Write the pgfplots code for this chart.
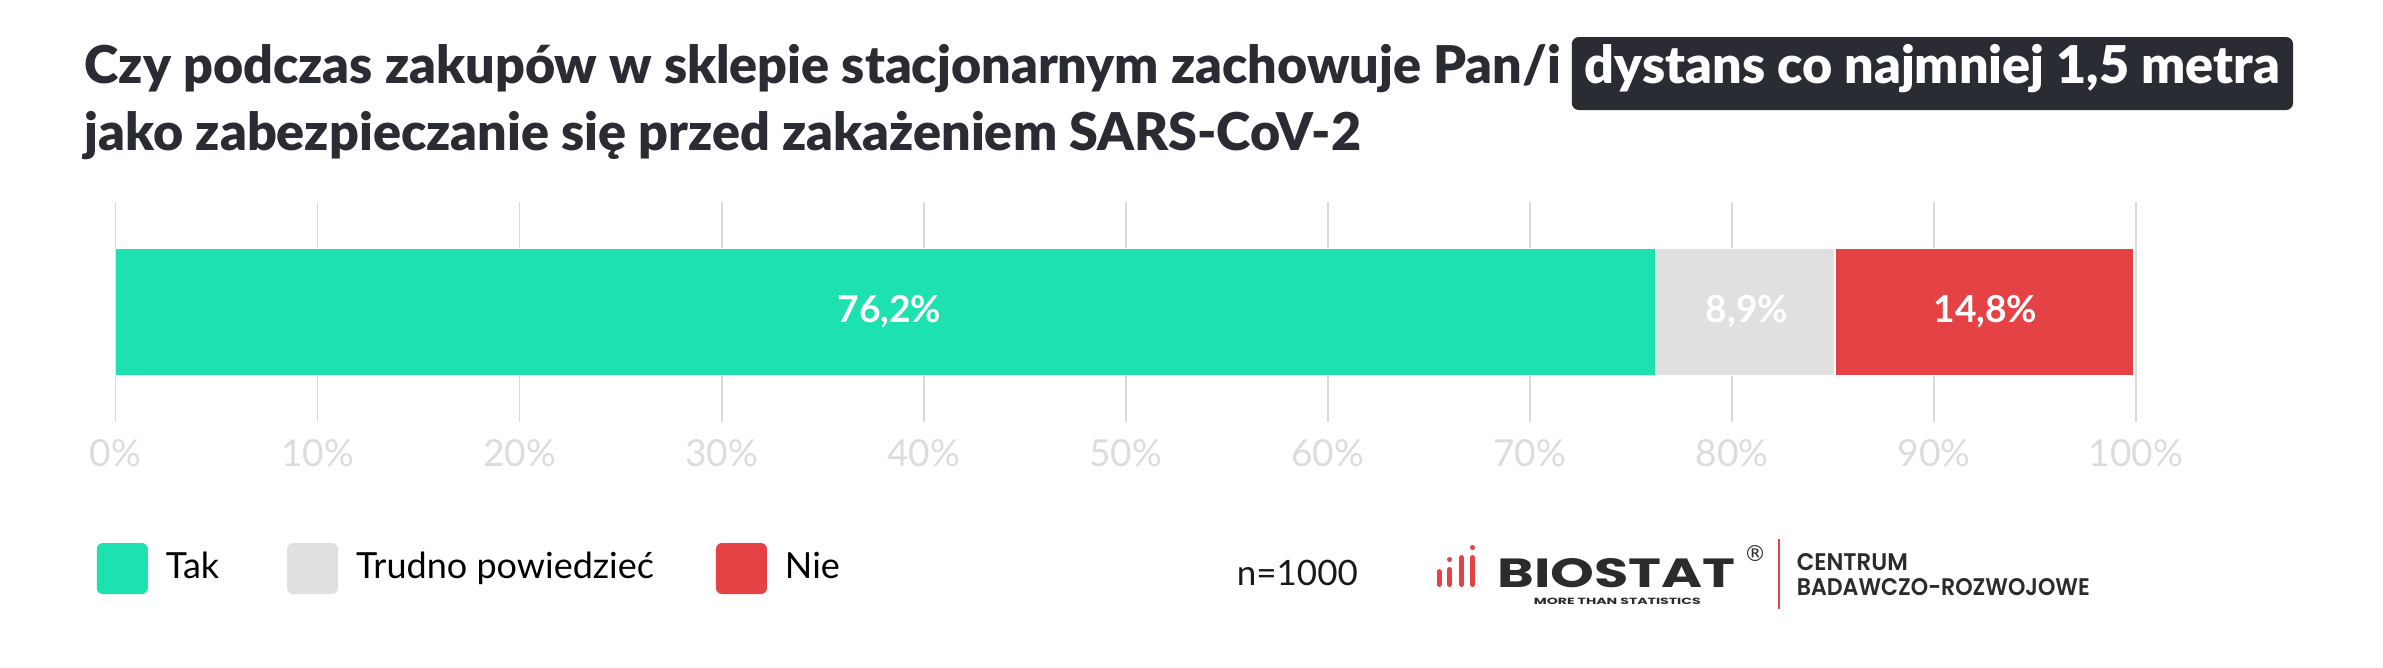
\documentclass[border=0pt]{standalone}
\usepackage{graphicx}
\usepackage{pgfplots}
\pgfplotsset{compat=1.18}
\usepackage{fontspec}
\setmainfont{Lato}
\newfontfamily\logofont{Poppins}
\newfontfamily\symfont{DejaVu Sans}
\IfFontExistsTF{Lato Black}{\newfontfamily\titlefont{Lato Black}}{%
  \IfFontExistsTF{Lato Heavy}{\newfontfamily\titlefont{Lato Heavy}}{\newcommand\titlefont{\bfseries}}}
\IfFontExistsTF{Poppins SemiBold}{\newfontfamily\logomed{Poppins SemiBold}}{\newcommand\logomed{\logofont\bfseries}}
\definecolor{tak}{HTML}{1DE1AE}
\definecolor{trudno}{HTML}{E0E0E0}
\definecolor{nie}{HTML}{E44244}
\definecolor{titlec}{HTML}{2A2C33}
\definecolor{gridc}{HTML}{DADADA}
\definecolor{tickc}{HTML}{DCDCDC}
\definecolor{logoc}{HTML}{2B2B2B}
\newlength\tw
\begin{document}
\settowidth\tw{\titlefont\fontsize{11}{13}\selectfont Czy podczas zakupów w sklepie stacjonarnym zachowuje Pan/i}%
\pgfmathsetmacro\tfs{11*369/\tw}%
\newcommand{\titlef}{\titlefont\fontsize{\tfs}{13}\selectfont}%
\begin{tikzpicture}
\useasboundingbox (0,0) rectangle (595.75pt,-166.75pt);
\begin{axis}[
  at={(28.9pt,-105.5pt)}, anchor=south west,
  scale only axis, width=505.1pt, height=55pt,
  xmin=0, xmax=100, ymin=-1, ymax=1,
  xbar stacked, bar width=1.1545,
  axis line style={draw=none},
  major tick length=0pt,
  ytick=\empty,
  xtick={0,10,...,100},
  xticklabels={0\%,10\%,20\%,30\%,40\%,50\%,60\%,70\%,80\%,90\%,100\%},
  xmajorgrids, grid style={gridc, line width=0.4pt},
  xticklabel style={font=\fontsize{9.3}{11}\selectfont, text=tickc, inner sep=0pt, anchor=north, yshift=-4.1pt},
  legend columns=3,
  legend style={at={(-0.0097,-0.666)}, anchor=west, draw=none, fill=none, inner sep=0pt,
    font=\fontsize{9}{11}\selectfont,
    /tikz/every odd column/.append style={column sep=2.5pt},
    /tikz/every even column/.append style={column sep=15pt}},
  legend image code/.code={\fill[#1, draw=none, rounded corners=1.5pt] (0pt,-6.375pt) rectangle (12.75pt,6.375pt);},
]
\addplot[fill=tak, draw=white, line width=0.3pt] coordinates {(76.2,0)};
\addlegendentry{Tak}
\addplot[fill=trudno, draw=white, line width=0.3pt] coordinates {(8.9,0)};
\addlegendentry{Trudno powiedzieć\kern-1.5pt}
\addplot[fill=nie, draw=white, line width=0.3pt] coordinates {(14.8,0)};
\addlegendentry{Nie}
\end{axis}
\begin{axis}[
  at={(28.9pt,-105.5pt)}, anchor=south west,
  scale only axis, width=505.1pt, height=55pt,
  xmin=0, xmax=100, ymin=-1, ymax=1,
  hide axis,
]
\addplot[draw=none, mark=none, nodes near coords, point meta=explicit symbolic,
  nodes near coords style={anchor=center, text=white, font=\fontsize{9.3}{11}\selectfont\bfseries}]
  coordinates {(38.3,0) [76,2\%] (80.75,0) [8,9\%] (92.55,0) [14,8\%]};
\end{axis}
\begin{scope}[x=0.25pt, y=-0.25pt]
\node[anchor=base west, inner sep=0pt, text=titlec, font=\titlef] at (84,83) {Czy podczas zakupów w sklepie stacjonarnym zachowuje Pan/i};
\node[anchor=base west, inner xsep=3.25pt, inner ysep=0pt, fill=titlec, rounded corners=1.75pt, text=white, font=\titlef, text height=11.5pt, text depth=6.75pt] at (1571,83) {dystans co najmniej 1,5 metra};
\node[anchor=base west, inner sep=0pt, text=titlec, font=\titlef] at (84,150) {jako zabezpieczanie się przed zakażeniem SARS-CoV-2};
\node[anchor=base west, inner sep=0pt, text=black!90, font=\fontsize{8.75}{10}\selectfont] at (1236,585) {n=1000};
% logo
\begin{scope}[line cap=round, line width=1.25pt, draw=nie]
\draw (1439,571.5)--(1439,584.5);
\draw (1449.5,569.5)--(1449.5,584.5);
\fill[nie] (1449.5,559.5) circle (2.5);
\draw (1461.5,557.5)--(1461.5,584.5);
\draw (1472.5,557.5)--(1472.5,584.5);
\fill[nie] (1472.5,547.5) circle (2.5);
\end{scope}
\node[anchor=base west, inner sep=0pt, text=logoc] at (1497,587) {\resizebox{59.5pt}{7.25pt}{\logofont\bfseries BIOSTAT}};
\node[anchor=base west, inner sep=0pt, text=logoc] at (1533,604) {\resizebox{41.75pt}{1.6pt}{\logofont\bfseries MORE THAN STATISTICS}};
\node[anchor=center, inner sep=0pt, text=logoc, font=\symfont\fontsize{5.5}{6}\selectfont] at (1755,554) {®};
\draw[nie, line width=0.3pt] (1779,539)--(1779,609);
\node[anchor=base west, inner sep=0pt, text=logoc] at (1796,570) {\resizebox{27.75pt}{4.25pt}{\logomed CENTRUM}};
\node[anchor=base west, inner sep=0pt, text=logoc] at (1796,595) {\resizebox{73.25pt}{4.25pt}{\logomed BADAWCZO-ROZWOJOWE}};
\end{scope}
\end{tikzpicture}
\end{document}
